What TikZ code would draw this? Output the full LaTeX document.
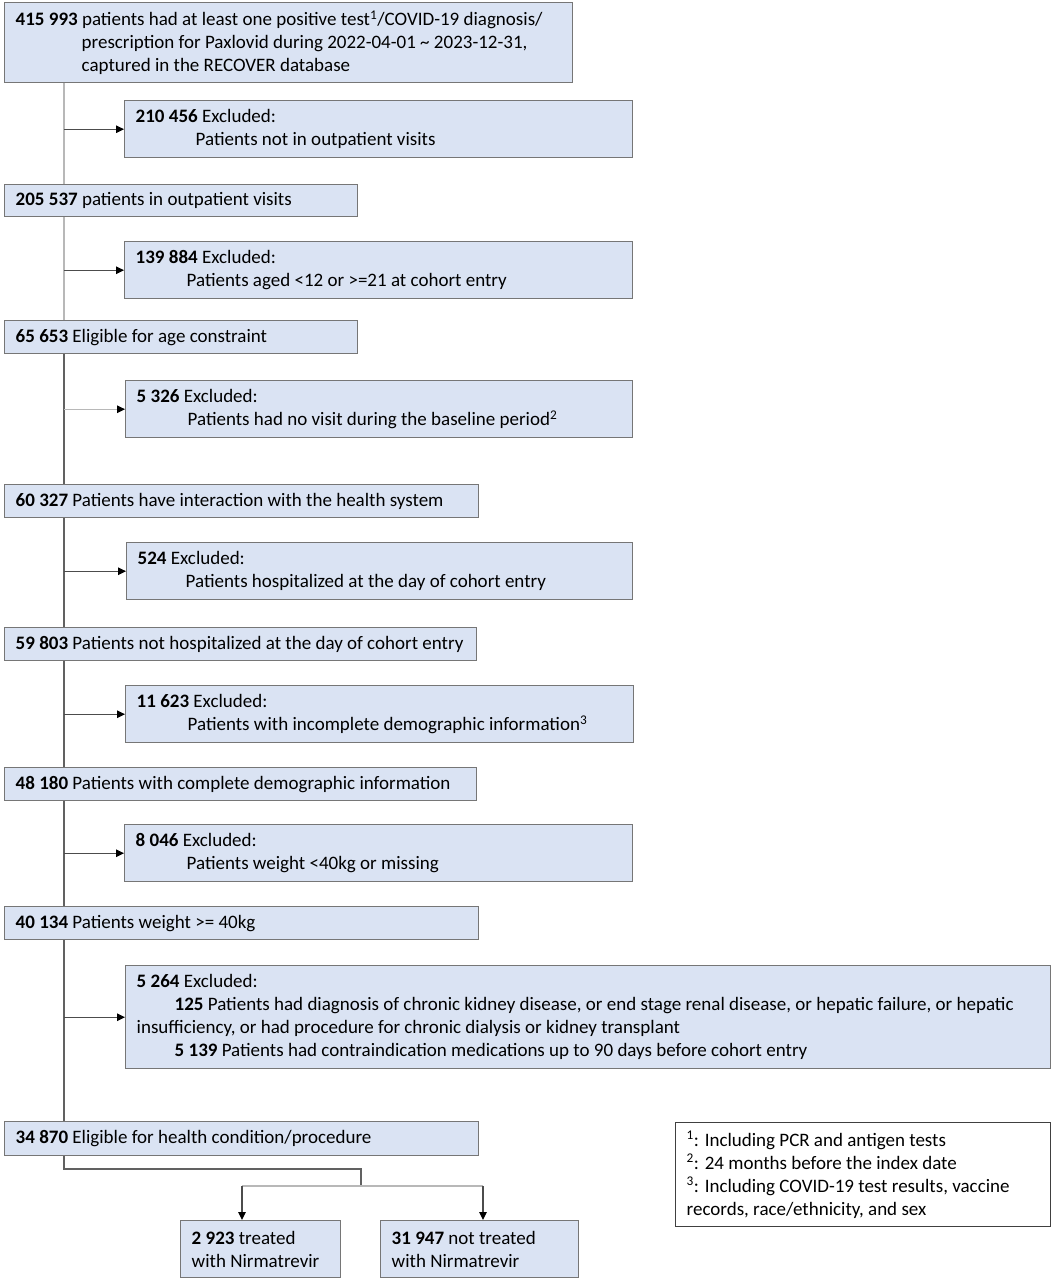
\documentclass[tikz,border=0pt]{standalone}
\usepackage{fontspec}
\setmainfont{Carlito}
\usepackage{tikz}
\usetikzlibrary{arrows.meta,positioning}

\definecolor{boxblue}{RGB}{218,227,243}
\definecolor{boxline}{RGB}{118,118,118}

\begin{document}
\begin{tikzpicture}[x=1pt, y=-1pt,
    box/.style={draw=boxline, line width=1.4pt, fill=boxblue, anchor=north west,
                inner xsep=11pt, inner ysep=0pt, align=left, font=\fontsize{19}{23}\selectfont,
                execute at begin node={\spaceskip 0pt\xspaceskip 0pt\relax}},
    sz/.code 2 args={\pgfmathsetmacro\boxtw{#1-22}%
        \edef\boxtmp{\noexpand\pgfkeysalso{minimum width=#1pt, minimum height=#2pt, text width=\boxtw pt}}\boxtmp},
    lite/.style={every edge/.style={draw=black!28, line width=1.2pt}},
    dark/.style={every edge/.style={draw=black!62, line width=1.2pt}},
    arr/.style={every edge/.style={draw=#1, line width=1.2pt, -{Triangle[length=8pt, width=7.5pt, color=black]}}},
    arr/.default=black!70]
   \useasboundingbox (0,0) rectangle (1052,1280);
   \coordinate (spine) at (64,0);
   % main flow
   \node[box, sz={568}{80}] (p_0) at (4,2) {\textbf{415 993} patients had at least one positive test\textsuperscript{1}/COVID-19 diagnosis/\\
        \hspace*{66pt}prescription for Paxlovid during 2022-04-01 \textasciitilde{} 2023-12-31,\\
        \hspace*{66pt}captured in the RECOVER database};
   \node[box, sz={353}{32}] (p_1) at (4,184) {\textbf{205 537} patients in outpatient visits};
   \node[box, sz={353}{33}] (p_2) at (4,320) {\textbf{65 653} Eligible for age constraint};
   \node[box, sz={474}{33}] (p_3) at (4,484) {\textbf{60 327} Patients have interaction with the health system};
   \node[box, sz={472}{33}] (p_4) at (4,627) {\textbf{59 803} Patients not hospitalized at the day of cohort entry};
   \node[box, sz={472}{33}] (p_5) at (4,767) {\textbf{48 180} Patients with complete demographic information};
   \node[box, sz={474}{33}] (p_6) at (4,906) {\textbf{40 134} Patients weight >= 40kg};
   \node[box, sz={474}{34}] (p_7) at (4,1121) {\textbf{34 870} Eligible for health condition/procedure};
   % exclusions
   \node[box, sz={508}{57}] (e_1) at (124,100) {\textbf{210 456} Excluded:\\\hspace*{60pt}Patients not in outpatient visits};
   \node[box, sz={508}{57}] (e_2) at (124,241) {\textbf{139 884} Excluded:\\\hspace*{51pt}Patients aged <12 or >=21 at cohort entry};
   \node[box, sz={507}{57}] (e_3) at (125,380) {\textbf{5 326} Excluded:\\\hspace*{51pt}Patients had no visit during the baseline period\textsuperscript{2}};
   \node[box, sz={506}{57}] (e_4) at (126,542) {\textbf{524} Excluded:\\\hspace*{48pt}Patients hospitalized at the day of cohort entry};
   \node[box, sz={508}{57}] (e_5) at (125,685) {\textbf{11 623} Excluded:\\\hspace*{51pt}Patients with incomplete demographic information\textsuperscript{3}};
   \node[box, sz={508}{57}] (e_6) at (124,824) {\textbf{8 046} Excluded:\\\hspace*{51pt}Patients weight <40kg or missing};
   \node[box, sz={925}{103}] (e_7) at (125,965) {\textbf{5 264} Excluded:\\
        \hspace*{38pt}\textbf{125} Patients had diagnosis of chronic kidney disease, or end stage renal disease, or hepatic failure, or hepatic\\
        insufficiency, or had procedure for chronic dialysis or kidney transplant\\
        \hspace*{38pt}\textbf{5 139} Patients had contraindication medications up to 90 days before cohort entry};
   % outcome
   \node[box, sz={160}{57}] (t_1) at (180,1220) {\textbf{2 923} treated\\with Nirmatrevir};
   \node[box, sz={198}{57}] (t_2) at (380,1220) {\textbf{31 947} not treated\\with Nirmatrevir};
   \node[box, sz={375}{104}, fill=white, draw=black!75] (note) at (675,1122) {\textsuperscript{1}: Including PCR and antigen tests\\
        \textsuperscript{2}: 24 months before the index date\\
        \textsuperscript{3}: Including COVID-19 test results, vaccine\\
        records, race/ethnicity, and sex};
   % connectors
   \path[lite]
    (p_0.south -| spine) edge (p_1.north -| spine)
    (p_1.south -| spine) edge (p_2.north -| spine);
   \path[dark]
    (p_2.south -| spine) edge (p_3.north -| spine)
    (p_3.south -| spine) edge (p_4.north -| spine)
    (p_4.south -| spine) edge (p_5.north -| spine)
    (p_5.south -| spine) edge (p_6.north -| spine)
    (p_6.south -| spine) edge (p_7.north -| spine);
   \path[arr]
    (e_1.west -| spine) edge (e_1.west)
    (e_2.west -| spine) edge (e_2.west)
    (e_4.west -| spine) edge (e_4.west)
    (e_5.west -| spine) edge (e_5.west)
    (e_6.west -| spine) edge (e_6.west)
    (e_7.west -| spine) edge (e_7.west);
   \path[arr=black!28] (e_3.west -| spine) edge (e_3.west);
   % split into the two groups
   \coordinate (fork) at (361,1169);
   \coordinate (split) at (361,1186);
   \coordinate (a_1) at (242,1186);
   \coordinate (a_2) at (483,1186);
   \draw[draw=black!62, line width=1.2pt] (p_7.south -| spine) |- (fork) -- (split);
   \draw[draw=black!28, line width=1.2pt] (a_1) -- (a_2);
   \path[arr]
    (a_1) edge (a_1 |- t_1.north)
    (a_2) edge (a_2 |- t_2.north);
\end{tikzpicture}
\end{document}
